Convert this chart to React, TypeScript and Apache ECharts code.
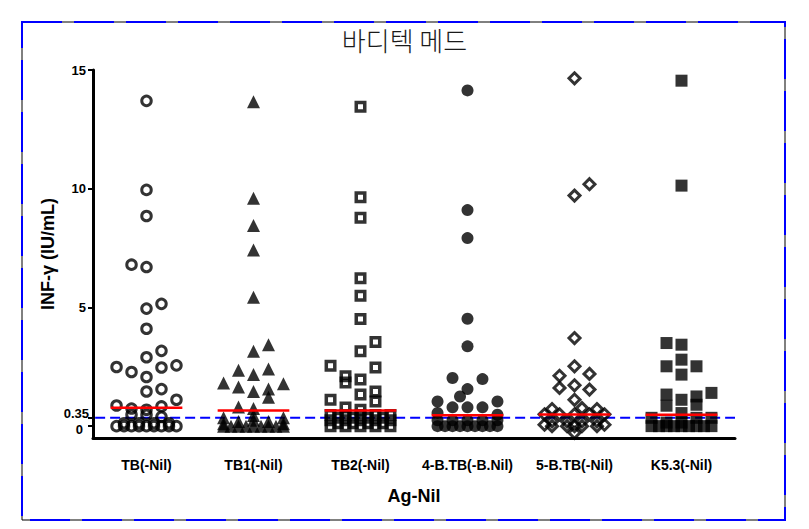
import React, { useEffect, useRef } from "react";
import * as echarts from "echarts";

// ---- data ----
const categories = ["TB(-Nil)", "TB1(-Nil)", "TB2(-Nil)", "4-B.TB(-B.Nil)", "5-B.TB(-Nil)", "K5.3(-Nil)"];
const yTickValues = [0, 5, 10, 15];
const yUpperLabels = [5, 10, 15];
const yZeroLabel = [0];
const cutoff = 0.35;
const cutoffTick = [0.35];
const medians = [0.77, 0.66, 0.66, 0.46, 0.49, 0.48];

// values (IU/mL) and horizontal slot (jitter position within the column)
const tbValues = [13.7, 9.95, 8.85, 6.8, 6.7, 5.15, 4.95, 4.1, 3.17, 2.9, 2.49, 2.47, 2.56, 2.28, 2.07, 1.46, 1.56, 1.11, 0.87, 0.74, 0.69, 0.83, 0.48, 0.48, 0.39, 0.12, 0.12, 0.12, 0.12, 0, 0, 0, 0, 0, 0, 0, 0, 0];
const tbSlots = [0, 0, 0, -1, 0, 1, 0, 0, 1, 0, -2, 1, 2, -1, 0, 0, 1, 2, -2, -1, 0, 1, -1, 0, 1, -1.5, -0.5, 0.5, 1.5, -2, -1.5, -1, -0.5, 0, 0.5, 1, 1.5, 2];

const tb1Values = [13.66, 9.6, 8.45, 7.42, 5.43, 3.43, 3.15, 2.35, 2.41, 2.17, 1.82, 1.65, 1.46, 1.56, 1.22, 1.79, 0.81, 0.74, 0.35, 0.45, 0.35, 0.2, 0.2, 0.25, 0.1, 0.1, 0, 0, 0, 0, 0, 0, 0, 0, 0];
const tb1Slots = [0, 0, 0, 0, 0, 1, 0, -1, 1, 0, -2, -1, 0, 1, 1, 2, -1, 0, -2, 0, 2, -1, 1, 0, -2, 2, -2, -1.5, -1, -0.5, 0, 0.5, 1, 1.5, 2];

const tb2Values = [13.45, 9.64, 8.78, 6.23, 5.49, 4.51, 3.54, 3.15, 2.54, 2.47, 2.1, 1.84, 1.96, 1.46, 1.33, 1.11, 1.04, 0.78, 0.69, 0.47, 0.47, 0.47, 0.47, 0.47, 0.35, 0.35, 0.35, 0.35, 0.25, 0.25, 0.25, 0.25, 0.25, 0.12, 0.12, 0.12, 0.12, 0, 0, 0, 0, 0];
const tb2Slots = [0, 0, 0, 0, 0, 0, 1, 0, -2, 1, -1, -1, 0, 1, 0, -2, 1, -1, 0, -2, -1, 0, 1, 2, -1.5, -0.5, 0.5, 1.5, -2, -1, 0, 1, 2, -1.5, -0.5, 0.5, 1.5, -2, -1, 0, 1, 2];

const fourBValues = [14.14, 9.1, 7.92, 4.52, 3.36, 2.03, 1.98, 1.56, 1.25, 1.04, 1.04, 0.79, 0.79, 0.79, 0.55, 0.48, 0.25, 0.25, 0.25, 0.25, 0.25, 0, 0, 0, 0, 0, 0, 0, 0, 0];
const fourBSlots = [0, 0, 0, 0, 0, -1, 1, 0, -0.5, -2, 2, -1, 0, 1, -2, 2, -2, -1, 0, 1, 2, -2, -1.5, -1, -0.5, 0, 0.5, 1, 1.5, 2];

const fiveBValues = [14.65, 10.19, 9.71, 3.71, 2.52, 2.2, 2.12, 1.72, 1.61, 1.54, 1.11, 0.72, 0.76, 0.72, 0.5, 0.5, 0.5, 0.5, 0.5, 0.2, 0.2, 0.2, 0.2, 0.06, 0.06, 0, 0, 0, 0, 0, -0.28];
const fiveBSlots = [0, 1, 0, 0, 0, 1, -1, 0, -1, 1, 0, -1.5, 0.5, 1.5, -2, -1, 0, 1, 2, -1.5, -0.5, 0.5, 1.5, -2, 2, -1.5, -0.5, 0, 0.5, 1.5, 0];

const k53Values = [14.55, 10.13, 3.5, 3.43, 2.8, 2.52, 2.52, 2.17, 1.33, 1.11, 1.25, 1.4, 0.86, 0.9, 0.55, 0.35, 0.35, 0.35, 0.15, 0.15, 0, 0, 0, 0, 0, 0, 0, 0, 0];
const k53Slots = [0, 0, -1, 0, 0, -1, 1, 0, -1, 0, 1, 2, -1, 1, 0, -2, 1, 2, -1, 0, -2, -1.5, -1, -0.5, 0, 0.5, 1, 1.5, 2];

const groupValues = [tbValues, tb1Values, tb2Values, fourBValues, fiveBValues, k53Values];
const groupSlots = [tbSlots, tb1Slots, tb2Slots, fourBSlots, fiveBSlots, k53Slots];

// ---- styles ----
const SLOT = 0.14; // category units per jitter slot
const MEDIAN_HALF = 0.335;
const Y_MIN = -0.5;
const Y_MAX = 15;
const FONT = "Liberation Sans, Arial, sans-serif";
const markerStyles: any[] = [
  { symbol: "circle", symbolSize: 9.5, itemStyle: { color: "rgba(0,0,0,0)", borderColor: "#000", borderWidth: 3 } },
  { symbol: "triangle", symbolSize: 13, itemStyle: { color: "#000" } },
  { symbol: "rect", symbolSize: 8.5, itemStyle: { color: "rgba(0,0,0,0)", borderColor: "#000", borderWidth: 3.5 } },
  { symbol: "circle", symbolSize: 12, itemStyle: { color: "#000" } },
  { symbol: "diamond", symbolSize: 11, itemStyle: { color: "rgba(0,0,0,0)", borderColor: "#000", borderWidth: 3 } },
  { symbol: "rect", symbolSize: 12, itemStyle: { color: "#000" } },
];
const tickLabelStyle = {
  fontFamily: FONT,
  fontWeight: "bold",
  fontSize: 13,
  color: "#000",
  margin: 7,
  hideOverlap: false,
  formatter: (v: number) => String(v),
};
const hiddenAxisBase = {
  type: "value",
  position: "left",
  offset: 0,
  min: Y_MIN,
  max: Y_MAX,
  axisLine: { show: false },
  splitLine: { show: false },
};

export default function App() {
  const ref = useRef<HTMLDivElement>(null);
  useEffect(() => {
    if (!ref.current) return;
    const chart = echarts.init(ref.current, undefined, { renderer: "svg" });

    const scatterSeries = groupValues.map((vals, gi) => ({
      type: "scatter",
      xAxisIndex: 1,
      yAxisIndex: 0,
      z: 3,
      ...markerStyles[gi],
      data: vals.map((v, i) => [gi + 0.5 + groupSlots[gi][i] * SLOT, v]),
    }));

    const medianSeries = medians.map((m, gi) => ({
      type: "line",
      xAxisIndex: 1,
      yAxisIndex: 0,
      z: 4,
      showSymbol: false,
      symbol: "none",
      lineStyle: { color: "#ff0000", width: 2.5 },
      data: [
        [gi + 0.5 - MEDIAN_HALF, m],
        [gi + 0.5 + MEDIAN_HALF, m],
      ],
    }));

    const cutoffSeries = {
      type: "line",
      xAxisIndex: 1,
      yAxisIndex: 0,
      z: 2,
      showSymbol: false,
      symbol: "none",
      lineStyle: { color: "#0000ff", width: 2, type: [10, 5] },
      data: [
        [0.02, cutoff],
        [6, cutoff],
      ],
    };

    chart.setOption({
      animation: false,
      backgroundColor: "#fff",
      grid: { left: 93, right: 74, top: 70, bottom: 91 },
      graphic: [
        {
          type: "rect",
          shape: { x: 22, y: 22, width: 763, height: 498 },
          style: { fill: "none", stroke: "#000", lineWidth: 1 },
          silent: true,
        },
        {
          type: "rect",
          shape: { x: 22, y: 22, width: 763, height: 498 },
          style: { fill: "none", stroke: "#0000ff", lineWidth: 2, lineDash: [40, 12] },
          silent: true,
        },
        {
          type: "text",
          left: "center",
          top: 26,
          style: {
            text: "바디텍 메드",
            font: '300 26px "Noto Sans CJK KR"',
            fill: "#1a1a1a",
          },
        },
      ],
      xAxis: [
        {
          type: "category",
          data: categories,
          boundaryGap: true,
          name: "Ag-Nil",
          nameLocation: "middle",
          nameGap: 49,
          nameTextStyle: { fontFamily: FONT, fontWeight: "bold", fontSize: 18, color: "#000" },
          axisLine: { onZero: false, lineStyle: { color: "#000", width: 3 } },
          axisTick: { alignWithLabel: true, length: 4, lineStyle: { color: "#000", width: 2 } },
          axisLabel: { fontFamily: FONT, fontWeight: "bold", fontSize: 14, color: "#000", margin: 20, interval: 0 },
          splitLine: { show: false },
        },
        {
          type: "value",
          min: 0,
          max: 6,
          show: false,
        },
      ],
      yAxis: [
        {
          type: "value",
          min: Y_MIN,
          max: Y_MAX,
          name: "INF-γ (IU/mL)",
          nameLocation: "middle",
          nameGap: 36,
          nameRotate: 90,
          nameTextStyle: { fontFamily: FONT, fontWeight: "bold", fontSize: 18, color: "#000" },
          axisLine: { show: true, onZero: false, lineStyle: { color: "#000", width: 3 } },
          axisTick: { show: true, length: 5, customValues: yTickValues, lineStyle: { color: "#000", width: 2 } },
          axisLabel: { ...tickLabelStyle, customValues: yUpperLabels },
          splitLine: { show: false },
        },
        {
          ...hiddenAxisBase,
          axisTick: { show: true, length: 5, customValues: cutoffTick, lineStyle: { color: "#000", width: 2 } },
          axisLabel: { ...tickLabelStyle, customValues: cutoffTick, margin: 4, lineHeight: 8, verticalAlign: "bottom" },
        },
        {
          ...hiddenAxisBase,
          axisTick: { show: false },
          axisLabel: { ...tickLabelStyle, customValues: yZeroLabel, margin: 10, lineHeight: 6, verticalAlign: "top" },
        },
      ],
      series: [cutoffSeries, ...scatterSeries, ...medianSeries],
    });

    return () => chart.dispose();
  }, []);

  return (
    <div
      ref={ref}
      style={{ position: "fixed", left: 0, top: 0, width: 809, height: 529, background: "#fff" }}
    />
  );
}
